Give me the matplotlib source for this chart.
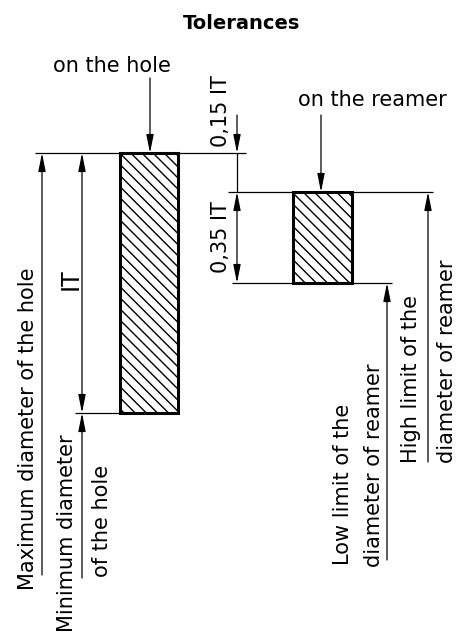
import matplotlib.pyplot as plt
from matplotlib.patches import Rectangle

plt.rcParams['font.family'] = 'DejaVu Sans'
plt.rcParams['hatch.linewidth'] = 1.0

# tolerance zones in units of IT (0 = minimum diameter of the hole)
hole_zone = [0.0, 1.0]
gap_it = 0.15
reamer_it = 0.35
reamer_zone = [hole_zone[1] - gap_it - reamer_it, hole_zone[1] - gap_it]

title = 'Tolerances'
hole_label = 'on the hole'
reamer_label = 'on the reamer'
gap_label = '0,15 IT'
reamer_tol_label = '0,35 IT'
it_label = 'IT'
max_hole_label = 'Maximum diameter of the hole'
min_hole_label = ['Minimum diameter', 'of the hole']
low_label = ['Low limit of the', 'diameter of reamer']
high_label = ['High limit of the', 'diameter of reamer']

fig = plt.figure(figsize=(4.64, 6.34), dpi=100)
ax = fig.add_axes([0, 0, 1, 1])
ax.set_xlim(0, 464)
ax.set_ylim(-0.85, 413 / 260)
ax.axis('off')


def py(row):
    # layout helper: picture row -> IT units
    return (413 - row) / 260


LW = 0.9
AST = '-|>,head_length=1.1,head_width=0.22'
DBL = '<|-|>,head_length=1.1,head_width=0.22'


def arrow(x, tip, tail, style=AST):
    ax.annotate('', xy=(x, tip), xytext=(x, tail),
                arrowprops=dict(arrowstyle=style, mutation_scale=10, lw=LW,
                                color='k', shrinkA=0, shrinkB=0))


def vtext(x, y, s, ha='left', size=15):
    ax.text(x, y, s, rotation=90, rotation_mode='anchor', ha=ha,
            va='baseline', fontsize=size)


# tolerance zones
hole_lo, hole_hi = hole_zone
ream_lo, ream_hi = reamer_zone
ax.add_patch(Rectangle((120, hole_lo), 58, hole_hi - hole_lo, facecolor='white',
                       edgecolor='black', hatch='\\\\\\', lw=2.2, zorder=3))
ax.add_patch(Rectangle((293, ream_lo), 59, ream_hi - ream_lo, facecolor='white',
                       edgecolor='black', hatch='\\\\\\', lw=2.2, zorder=3))

# extension lines
ax.hlines(hole_hi, 35, 246, color='k', lw=LW)
ax.hlines(hole_lo, 75, 120, color='k', lw=LW)
ax.hlines(ream_hi, 228, 433, color='k', lw=LW)
ax.hlines(ream_lo, 232, 392, color='k', lw=LW)

# hole side
arrow(42, hole_hi, py(575))
arrow(82, hole_lo, hole_hi, style=DBL)
arrow(82, hole_lo, py(578))
arrow(150, hole_hi, py(78))

# gap and reamer tolerance
arrow(237, hole_hi, py(115))
ax.vlines(237, ream_hi, hole_hi, color='k', lw=LW)
arrow(237, ream_lo, ream_hi, style=DBL)
arrow(321, ream_hi, py(115))
arrow(387, ream_lo, py(560))
arrow(428, ream_hi, py(462))

# texts
ax.text(242, py(29), title, ha='center', va='baseline', fontsize=14,
        fontweight='bold')
ax.text(112, py(72), hole_label, ha='center', va='baseline', fontsize=15)
ax.text(372, py(106), reamer_label, ha='center', va='baseline', fontsize=15)
vtext(227, py(147), gap_label)
vtext(227, (ream_lo + ream_hi) / 2, reamer_tol_label, ha='center')
vtext(78, py(279), it_label, ha='center', size=17)
vtext(34, py(590), max_hole_label)
vtext(73, py(632), min_hole_label[0])
vtext(108, py(577), min_hole_label[1])
vtext(349, py(565), low_label[0])
vtext(380, py(567), low_label[1])
vtext(417, py(463), high_label[0])
vtext(453, py(463), high_label[1])

fig.savefig('out.png', dpi=100, facecolor='white')
